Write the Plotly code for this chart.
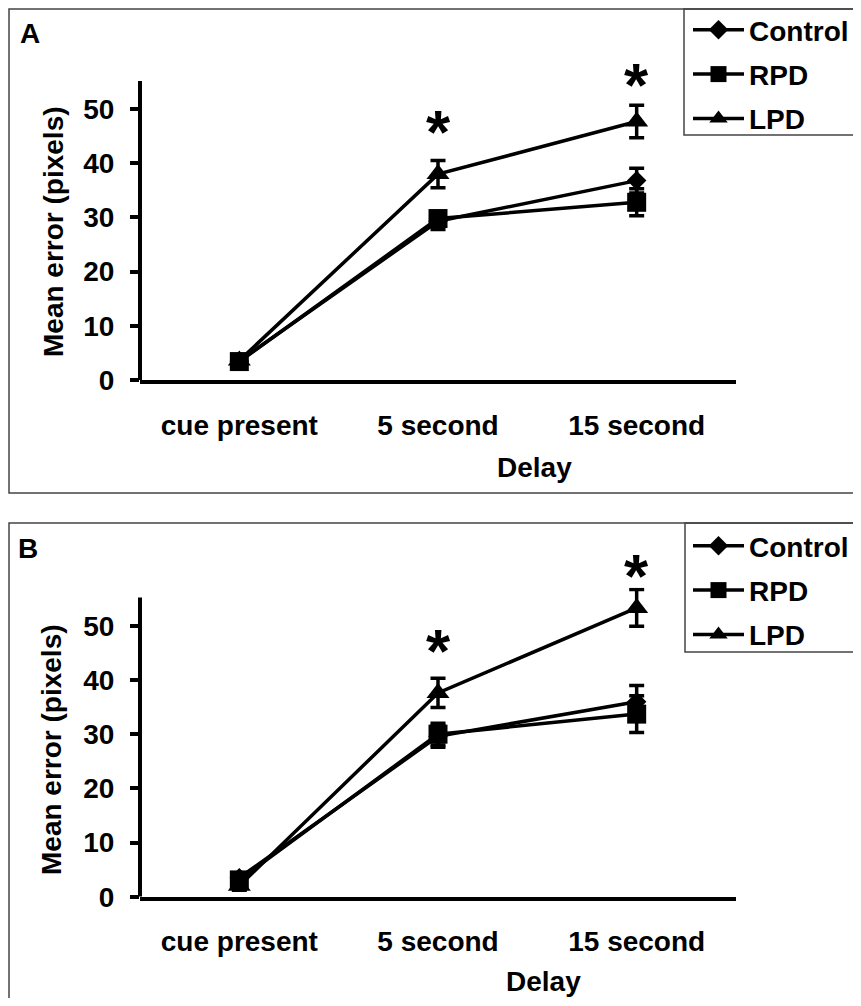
import plotly.graph_objects as go

# ---------------- data ----------------
categories = ["cue present", "5 second", "15 second"]
series_names = ["Control", "RPD", "LPD"]

# Panel A
a_control = [3.5, 29.3, 36.8]
a_control_err = [0.5, 1.5, 2.3]
a_rpd = [3.4, 29.8, 32.8]
a_rpd_err = [0.5, 1.2, 2.5]
a_lpd = [3.6, 38.0, 47.7]
a_lpd_err = [0.6, 2.5, 3.0]

# Panel B
b_control = [3.5, 29.6, 36.0]
b_control_err = [0.8, 2.0, 3.0]
b_rpd = [3.1, 30.0, 33.7]
b_rpd_err = [0.7, 2.0, 3.4]
b_lpd = [2.0, 37.6, 53.3]
b_lpd_err = [0.8, 2.7, 3.4]

# significance stars: category and height (in data units)
a_star_cats = ["5 second", "15 second"]
a_star_y = [47.5, 56.1]
b_star_cats = ["5 second", "15 second"]
b_star_y = [47.1, 60.9]

y_tick_vals = [0, 10, 20, 30, 40, 50]
Y_AXIS_TOP = 55.2      # where the drawn y-axis line ends
Y_RANGE = [0, 57]      # a little headroom so the tallest error bar shows

# ---------------- layout helpers ----------------
# the page adds an 8px body margin; the figure is sized so page = 861x1006
W, H = 845, 990
OFF = 8
FONT = "Liberation Sans, Arial, Helvetica, sans-serif"


def px_x(x):
    return (x - OFF) / W


def px_y(y):
    return 1 - (y - OFF) / H


PX_PER_UNIT = 5.418


def dom(y_zero_px):
    top_px = y_zero_px - Y_RANGE[1] * PX_PER_UNIT
    return [px_y(y_zero_px), px_y(top_px)]


symbols = ["diamond", "square", "triangle-up"]
sizes = [15, 19, 20]

fig = go.Figure()

panels = [
    ("x", "y", "legend", [a_control, a_rpd, a_lpd],
     [a_control_err, a_rpd_err, a_lpd_err], "a"),
    ("x2", "y2", "legend2", [b_control, b_rpd, b_lpd],
     [b_control_err, b_rpd_err, b_lpd_err], "b"),
]

for xa, ya, leg, vals, errs, tag in panels:
    for name, v, e, sym, sz in zip(series_names, vals, errs, symbols, sizes):
        fig.add_trace(go.Scatter(
            x=categories, y=v, name=name, mode="lines+markers",
            xaxis=xa, yaxis=ya, legend=leg, legendgroup=tag + name,
            line=dict(color="black", width=3.5),
            marker=dict(symbol=sym, size=sz, color="black"),
            error_y=dict(type="data", array=e, visible=True,
                         color="black", thickness=3.5, width=7.5),
            cliponaxis=False,
        ))

xaxis_common = dict(
    type="category", categoryorder="array", categoryarray=categories,
    range=[-0.5, 2.5], ticks="", ticklabelstandoff=17,
    showline=True, linecolor="black", linewidth=4, showgrid=False,
    zeroline=False, tickfont=dict(size=28, weight="bold"),
)
yaxis_common = dict(
    range=Y_RANGE, tickvals=y_tick_vals, ticks="outside", ticklen=9,
    tickwidth=3.5, tickcolor="black", ticklabelstandoff=10,
    showline=False, showgrid=False, zeroline=False,
    tickfont=dict(size=28, weight="bold"),
)

legend_common = dict(
    xanchor="left", yanchor="top", bgcolor="rgba(0,0,0,0)", borderwidth=0,
    tracegroupgap=5, itemwidth=51,
    font=dict(family=FONT, size=28, weight="bold"),
)

x_dom = [px_x(140), px_x(736)]
fig.update_layout(
    width=W, height=H,
    margin=dict(l=0, r=0, t=0, b=0, autoexpand=False),
    paper_bgcolor="white", plot_bgcolor="white",
    font=dict(family=FONT, size=28, color="black", weight="bold"),
    showlegend=True,
    xaxis=dict(domain=x_dom, anchor="y", **xaxis_common),
    yaxis=dict(domain=dom(380), anchor="x", **yaxis_common),
    xaxis2=dict(domain=x_dom, anchor="y2", **xaxis_common),
    yaxis2=dict(domain=dom(896.7), anchor="x2", **yaxis_common),
    legend=dict(x=px_x(688), y=px_y(5), **legend_common),
    legend2=dict(x=px_x(688), y=px_y(521), **legend_common),
)

# y-axis lines (stop at the top of the labelled scale)
for ya in ["y", "y2"]:
    fig.add_shape(type="line", xref=ya.replace("y", "x") + " domain",
                  yref=ya, x0=0, x1=0, y0=0, y1=Y_AXIS_TOP,
                  line=dict(color="black", width=4), layer="above")

# panel frames and legend boxes
frame = dict(type="rect", xref="paper", yref="paper",
             line=dict(color="#444444", width=1.5), fillcolor="rgba(0,0,0,0)",
             layer="below")
fig.add_shape(x0=px_x(9), x1=1.2, y0=px_y(493), y1=px_y(9), **frame)
fig.add_shape(x0=px_x(684), x1=1.2, y0=px_y(135), y1=px_y(9), **frame)
fig.add_shape(x0=px_x(9), x1=1.2, y0=-0.2, y1=px_y(523), **frame)
fig.add_shape(x0=px_x(685), x1=1.2, y0=px_y(652), y1=px_y(523), **frame)

txt = dict(showarrow=False, font=dict(family=FONT, size=28, color="black",
                                      weight="bold"))
# panel letters
fig.add_annotation(text="A", xref="paper", yref="paper", x=px_x(29.5),
                   y=px_y(34), xanchor="center", yanchor="middle", **txt)
fig.add_annotation(text="B", xref="paper", yref="paper", x=px_x(28),
                   y=px_y(548), xanchor="center", yanchor="middle", **txt)
# axis titles
fig.add_annotation(text="Delay", xref="paper", yref="paper", x=px_x(534),
                   y=px_y(467), xanchor="center", yanchor="middle", **txt)
fig.add_annotation(text="Delay", xref="paper", yref="paper", x=px_x(543),
                   y=px_y(981), xanchor="center", yanchor="middle", **txt)
fig.add_annotation(text="Mean error (pixels)", xref="paper", yref="paper",
                   x=px_x(53), y=px_y(232), textangle=-90,
                   xanchor="center", yanchor="middle", **txt)
fig.add_annotation(text="Mean error (pixels)", xref="paper", yref="paper",
                   x=px_x(51), y=px_y(750), textangle=-90,
                   xanchor="center", yanchor="middle", **txt)

# significance asterisks (y given in data units, placed relative to domain)
star = dict(showarrow=False, yshift=-8.5, xanchor="center", yanchor="middle",
            font=dict(family=FONT, size=62, color="black", weight="bold"))
for c, yv in zip(a_star_cats, a_star_y):
    fig.add_annotation(text="*", x=c, y=yv / Y_RANGE[1], xref="x",
                       yref="y domain", **star)
for c, yv in zip(b_star_cats, b_star_y):
    fig.add_annotation(text="*", x=c, y=yv / Y_RANGE[1], xref="x2",
                       yref="y2 domain", **star)

fig.write_html("out.html")
